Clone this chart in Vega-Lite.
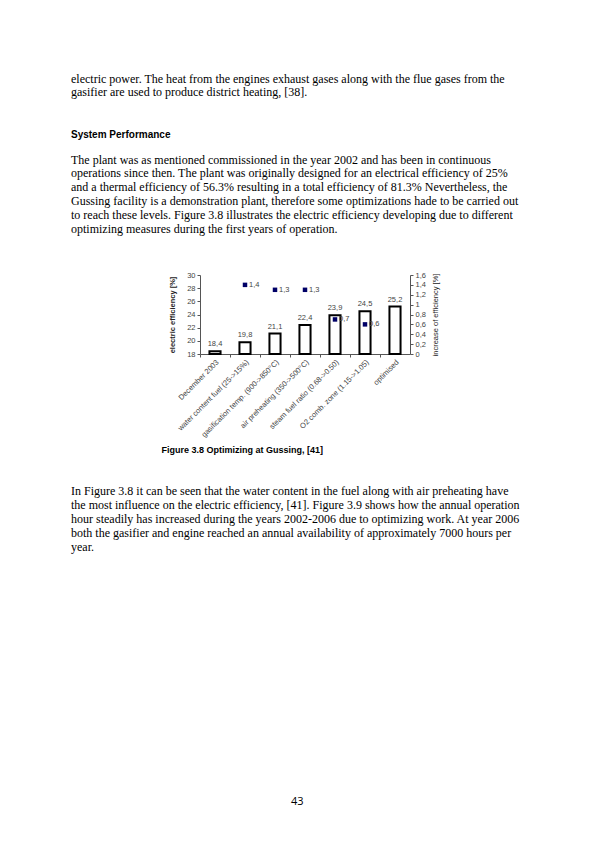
{
  "$schema": "https://vega.github.io/schema/vega-lite/v6.json",
  "padding": {"left": 71, "top": 72, "right": 0, "bottom": 0},
  "background": "white",
  "title": {
    "text": [
      "electric power. The heat from the engines exhaust gases along with the flue gases from the",
      "gasifier are used to produce district heating, [38]."
    ],
    "anchor": "start",
    "font": "Liberation Serif",
    "fontSize": 12,
    "fontWeight": "normal",
    "lineHeight": 13.9,
    "color": "black",
    "offset": 30
  },
  "spacing": 31,
  "vconcat": [
    {
      "width": 210,
      "height": 79,
      "title": {
        "text": "System Performance",
        "subtitle": [
          "The plant was as mentioned commissioned in the year 2002 and has been in continuous",
          "operations since then. The plant was originally designed for an electrical efficiency of 25%",
          "and a thermal efficiency of 56.3% resulting in a total efficiency of 81.3% Nevertheless, the",
          "Gussing facility is a demonstration plant, therefore some optimizations hade to be carried out",
          "to reach these levels. Figure 3.8 illustrates the electric efficiency developing due to different",
          "optimizing measures during the first years of operation."
        ],
        "anchor": "start",
        "frame": "group",
        "dx": -129,
        "offset": 36,
        "font": "Liberation Sans",
        "fontSize": 10,
        "fontWeight": "bold",
        "color": "black",
        "subtitleFont": "Liberation Serif",
        "subtitleFontSize": 12,
        "subtitleColor": "black",
        "subtitleLineHeight": 13.9,
        "subtitlePadding": 15
      },
      "data": {
        "values": [
          {"measure": "December 2003", "eff": 18.4, "inc": null},
          {"measure": "water content fuel (25->15%)", "eff": 19.8, "inc": 1.4},
          {"measure": "gasification temp. (900->850°C)", "eff": 21.1, "inc": 1.3},
          {"measure": "air preheating (350->500°C)", "eff": 22.4, "inc": 1.3},
          {"measure": "steam fuel ratio (0.68->0.50)", "eff": 23.9, "inc": 0.7},
          {"measure": "O2 comb. zone (1.15->1.05)", "eff": 24.5, "inc": 0.6},
          {"measure": "optimised", "eff": 25.2, "inc": null}
        ]
      },
      "layer": [
        {
          "encoding": {
            "x": {
              "field": "measure",
              "type": "nominal",
              "sort": null,
              "scale": {"paddingInner": 0, "paddingOuter": 0},
              "axis": {
                "orient": "bottom",
                "labelAngle": -45,
                "labelAlign": "right",
                "labelBaseline": "top",
                "ticks": false,
                "labelPadding": 4,
                "title": "Figure 3.8 Optimizing at Gussing, [41]",
                "titleFont": "Liberation Sans",
                "titleFontSize": 9,
                "titleFontWeight": "bold",
                "titleColor": "black",
                "titleAnchor": "start",
                "titleAlign": "left",
                "titleBaseline": "top",
                "titleX": -39,
                "titleY": 91
              }
            },
            "y": {
              "field": "eff",
              "type": "quantitative",
              "scale": {"domain": [18, 30], "nice": false, "zero": false},
              "axis": {
                "values": [18, 20, 22, 24, 26, 28, 30],
                "format": "d",
                "title": "electric efficiency [%]",
                "titleFontWeight": "bold",
                "titlePadding": 10
              }
            }
          },
          "layer": [
            {
              "mark": {"type": "bar", "width": {"band": 0.37}, "fill": "white", "stroke": "black", "strokeWidth": 2},
              "encoding": {"y2": {"datum": 18}}
            },
            {
              "mark": {"type": "text", "dy": -7, "fontSize": 7.5, "font": "Liberation Sans", "color": "#444"},
              "encoding": {"text": {"field": "eff", "format": ".1f"}}
            }
          ]
        },
        {
          "encoding": {
            "x": {
              "field": "measure",
              "type": "nominal",
              "sort": null,
              "axis": {"orient": "bottom", "labels": false, "ticks": true, "domain": false, "bandPosition": 0, "title": null}
            },
            "y": {
              "field": "inc",
              "type": "quantitative",
              "scale": {"domain": [0, 1.6], "nice": false},
              "axis": {
                "orient": "right",
                "values": [0, 0.2, 0.4, 0.6, 0.8, 1, 1.2, 1.4, 1.6],
                "format": ".1~f",
                "title": "increase of efficiency [%]",
                "titleAngle": 270,
                "titleBaseline": "top",
                "titlePadding": 6,
                "titleFontWeight": "normal"
              }
            }
          },
          "layer": [
            {
              "mark": {"type": "point", "shape": "square", "filled": true, "size": 20, "color": "#000066", "opacity": 1}
            },
            {
              "mark": {"type": "text", "align": "left", "baseline": "middle", "dx": 4, "fontSize": 7.5, "font": "Liberation Sans", "color": "#444"},
              "encoding": {"text": {"field": "inc", "format": ".1f"}}
            }
          ]
        }
      ],
      "resolve": {"scale": {"y": "independent"}, "axis": {"x": "independent"}}
    },
    {
      "width": 210,
      "height": 211,
      "data": {"values": []},
      "mark": "point",
      "encoding": {},
      "title": {
        "text": [
          "In Figure 3.8 it can be seen that the water  content in the fuel along with air preheating have",
          "the most influence on the electric efficiency, [41]. Figure 3.9 shows how the annual operation",
          "hour steadily has increased during the years 2002-2006 due to optimizing work.  At year 2006",
          "both the gasifier and engine reached an annual availability of approximately 7000 hours per",
          "year."
        ],
        "anchor": "start",
        "frame": "group",
        "dx": -129,
        "offset": 0,
        "font": "Liberation Serif",
        "fontSize": 12,
        "fontWeight": "normal",
        "lineHeight": 13.9,
        "color": "black"
      }
    },
    {
      "width": 210,
      "height": 1,
      "data": {"values": []},
      "mark": "point",
      "encoding": {},
      "title": {
        "text": "43",
        "anchor": "start",
        "frame": "group",
        "dx": 91,
        "offset": 0,
        "font": "Open Sans",
        "fontSize": 11,
        "fontWeight": "normal",
        "color": "black"
      }
    }
  ],
  "config": {
    "view": {"stroke": null},
    "locale": {"number": {"decimal": ",", "thousands": ".", "grouping": [3], "currency": ["", " €"]}},
    "axis": {
      "grid": false,
      "labelFont": "Liberation Sans",
      "labelFontSize": 7.5,
      "labelColor": "#444",
      "titleFont": "Liberation Sans",
      "titleFontSize": 7.5,
      "titleColor": "#222",
      "domainColor": "#555",
      "tickColor": "#555",
      "tickSize": 3
    }
  }
}
